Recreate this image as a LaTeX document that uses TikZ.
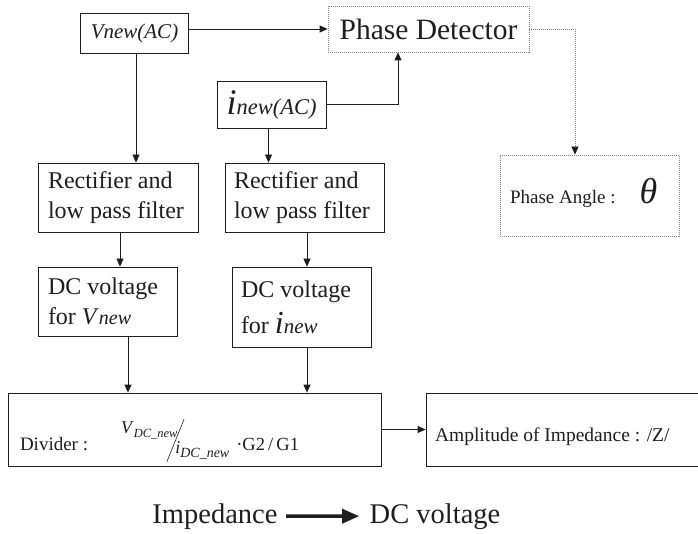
\documentclass[tikz,border=0pt]{standalone}
\usepackage{fontspec}
\setmainfont{Liberation Serif}
\usepackage{graphicx}
\usetikzlibrary{positioning, arrows.meta, calc}
\definecolor{ink}{RGB}{30,30,30}
\definecolor{dotgrey}{RGB}{130,130,130}
\newcommand{\fs}[1]{\fontsize{#1}{1.2\dimexpr #1pt\relax}\selectfont}

\begin{document}
\begin{tikzpicture}[x=1pt, y=-1pt,
    blk/.style={draw=ink, line width=0.8pt, inner xsep=10pt, inner ysep=0pt, text=ink,
                align=flush left, font=\fontsize{24}{30}\selectfont},
    dblk/.style={blk, draw=dotgrey, dash pattern=on 1pt off 1pt},
    arr/.style={-{Triangle[length=8pt, width=7pt]}, draw=ink, line width=0.8pt},
    darr/.style={-{Triangle[length=8pt, width=7pt, color=ink]}, draw=dotgrey,
                 line width=0.8pt, dash pattern=on 1pt off 1pt},
    big/.style={font=\fs{28.5}, text=ink}
  ]
  \useasboundingbox (0,0) rectangle (698,534);
  % inputs and detector
  \node[blk, minimum width=105pt, minimum height=40pt] (vac) at (134.5,33)
       {\fs{21}\textit{Vnew(AC)}};
  \node[dblk, minimum width=201pt, minimum height=46pt] (pd) at (428.5,29)
       {\fs{29.5}Phase Detector};
  \node[blk, minimum width=109pt, minimum height=47pt, inner xsep=4pt] (iac) at (271.5,104.5)
       {{\fs{36}\textit{i}}{\fs{22.5}\textit{new(AC)}}};
  \node[dblk, minimum width=179pt, minimum height=81pt, text width=159pt,
        text height=17pt, text depth=0pt] (pa) at (589.5,195.5)
       {\fs{19}Phase Angle :\hspace{24pt}{\fs{36}\textit{θ}}};

  % filters
  \node[blk, minimum width=160pt, minimum height=69pt, text width=140pt] (rf1) at (118,197.5)
       {Rectifier and\\low pass filter};
  \node[blk, minimum width=159pt, minimum height=69pt, inner xsep=9pt,
        text width=141pt] (rf2) at (304.5,197.5)
       {Rectifier and\\low pass filter};

  % dc levels
  \node[blk, minimum width=139pt, minimum height=69pt, text width=119pt] (dc1) at (107.5,301.5)
       {DC voltage\\for \textit{V}{\fs{20}\textit{new}}};
  \node[blk, minimum width=139pt, minimum height=80pt, inner xsep=9pt,
        text width=121pt] (dc2) at (301.5,307)
       {DC voltage\\[6pt]for {\fs{32}\textit{i}}{\fs{21}\textit{new}}};

  % divider and result
  \node[blk, minimum width=373pt, minimum height=73pt, inner xsep=12pt,
        text width=349pt, text height=41pt, text depth=0pt] (div) at (194.5,429.5)
       {\fs{19}Divider :\hspace{33pt}%
        \raisebox{17pt}{\fs{18}\textit{V}\raisebox{-4pt}{\fs{12.5}\textit{DC\_new}}}%
        \hspace{-11pt}\raisebox{-12pt}{\rotatebox{68}{\rule{46pt}{0.6pt}}}\hspace{-9pt}%
        \raisebox{-3pt}{\fs{18}\textit{i}\raisebox{-4pt}{\fs{14}\textit{DC\_new}}}%
        \hspace{7pt}{\fs{18.5}·G2\,/\,G1}};
  \node[blk, minimum width=276pt, minimum height=73pt, inner xsep=9pt,
        text width=258pt, text height=23pt, text depth=0pt] (amp) at (564,429.5)
       {\fs{19.5}Amplitude of Impedance : /Z/};

  % connectors
  \draw[arr] (vac.east |- pd.west) -- (pd.west);
  \draw[arr] (iac.east) -| ([xshift=-30.5pt]pd.south);
  \draw[darr] (pd.east) -| ([xshift=-14.5pt]pa.north);
  \draw[arr] ([xshift=1.5pt]vac.south) -- ([xshift=1.5pt]vac.south |- rf1.north);
  \draw[arr] ([xshift=-3pt]iac.south) -- ([xshift=-3pt]iac.south |- rf2.north);
  \draw[arr] ([xshift=2pt]rf1.south) -- ([xshift=2pt]rf1.south |- dc1.north);
  \draw[arr] ([xshift=2.5pt]rf2.south) -- ([xshift=2.5pt]rf2.south |- dc2.north);
  \draw[arr] ([xshift=20.5pt]dc1.south) -- ([xshift=20.5pt]dc1.south |- div.north);
  \draw[arr] ([xshift=5.5pt]dc2.south) -- ([xshift=5.5pt]dc2.south |- div.north);
  \draw[arr] (div.east) -- (amp.west);

  % caption
  \node[big, anchor=base] (imp) at (215,523) {Impedance};
  \node[big, anchor=base] (dcv) at (435,523) {DC voltage};
  \draw[-{Triangle[length=17pt, width=14pt]}, line width=3.5pt, draw=ink,
        shorten <=5pt, shorten >=7pt] (imp.east) -- (dcv.west);
\end{tikzpicture}
\end{document}
